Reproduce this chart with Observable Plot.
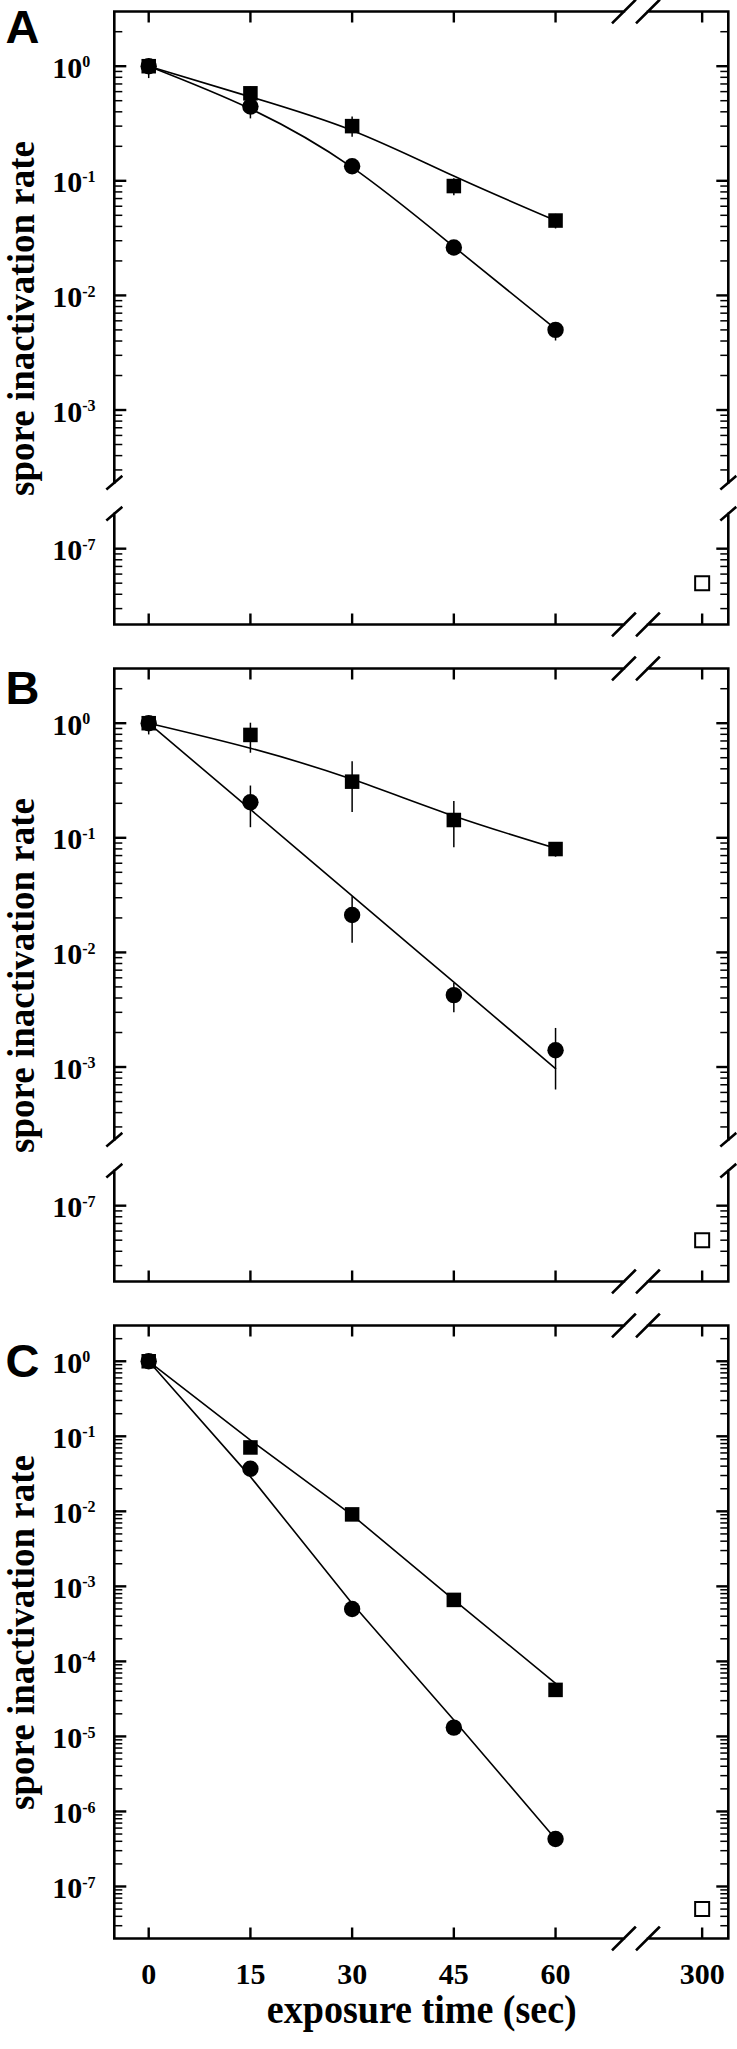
<!DOCTYPE html>
<html>
<head>
<meta charset="utf-8">
<script src="https://cdn.jsdelivr.net/npm/d3@7"></script>
<script src="https://cdn.jsdelivr.net/npm/@observablehq/plot@0.6"></script>
<style>
  html, body { margin: 0; padding: 0; background: #fff; }
  #chart { position: relative; width: 737px; height: 2049px; overflow: hidden; }
  #chart svg { position: absolute; left: 0; display: block; max-width: none; }
</style>
</head>
<body>
<div id="chart"></div>
<script>
// ---------------- data ----------------
const times = [0, 15, 30, 45, 60];
const lateTime = 300;
const xTickValues = [0, 15, 30, 45, 60, 300];

// Panel A
const aSquare      = [1, 0.58, 0.30, 0.090, 0.045];
const aSquareLow   = [0.78, 0.50, 0.24, 0.074, 0.038];
const aSquareHigh  = [1.16, 0.66, 0.36, 0.104, 0.051];
const aCircle      = [1, 0.445, 0.134, 0.0262, 0.0050];
const aCircleLow   = [0.86, 0.347, 0.122, 0.0245, 0.0040];
const aCircleHigh  = [1.10, 0.52, 0.146, 0.0280, 0.0058];
const aSquareFit   = [1, 0.54, 0.275, 0.11, 0.045];
const aCircleFit   = [1, 0.425, 0.131, 0.0266, 0.0051];
const aLate        = 5e-8;

// Panel B
const bSquare      = [1, 0.79, 0.309, 0.143, 0.0798];
const bSquareLow   = [0.79, 0.547, 0.166, 0.082, 0.0677];
const bSquareHigh  = [1.14, 1.0, 0.462, 0.207, 0.0867];
const bCircle      = [1, 0.204, 0.0212, 0.00424, 0.0014];
const bCircleLow   = [0.85, 0.1225, 0.012, 0.00297, 0.00063];
const bCircleHigh  = [1.10, 0.283, 0.0306, 0.00536, 0.00217];
const bSquareFit   = [1, 0.605, 0.324, 0.155, 0.081];
const bCircleFit   = [1, 0.177, 0.0311, 0.0055, 0.00097];
const bLate        = 5e-8;

// Panel C
const cSquare      = [1, 0.071, 0.0091, 6.6e-4, 4.17e-5];
const cCircle      = [1, 0.037, 5.0e-4, 1.31e-5, 4.3e-7];
const cSquareFit   = [1, 0.089, 0.0089, 6.6e-4, 5.1e-5];
const cCircleFit   = [1, 0.029, 5.9e-4, 1.66e-5, 4.3e-7];
const cLate        = 5e-8;

const majorTicksBroken = [1, 0.1, 0.01, 0.001, 1e-7];
const majorTicksFull   = [1, 1e-1, 1e-2, 1e-3, 1e-4, 1e-5, 1e-6, 1e-7];
const yLabel = "spore inactivation rate";
const xLabel = "exposure time (sec)";

// ---------------- layout ----------------
const W = 737, ML = 114.3, MR = 8.7, MT = 11.5, PH = 613;
const PW = W - ML - MR;
const X_DOMAIN = [-5, 85.55];
const LATE_POS = 81.62;            // where the post-break tick sits on the compressed axis
const X_BREAKS = [70.16, 73.70];   // axis-break slashes on the compressed axis
const SHIFT = 2.79;                // decades removed by the y-axis break (panels A, B)
const Y_BREAK_UP = 2.3e-4, Y_BREAK_LO = 2e-7;
const SERIF = "'Liberation Serif', 'Times New Roman', Times, serif";
const SANS = "'Liberation Sans', Arial, Helvetica, sans-serif";

const xPos = t => (t > 60 ? LATE_POS : t);
const brokenY = v => (v >= 1e-5 ? v : v * Math.pow(10, SHIFT));
const unbrokenY = d => (d >= 1.8e-4 ? d : d / Math.pow(10, SHIFT));
const identity = v => v;

function minorTicks(lo, hi) {
  const out = [];
  for (let e = -9; e <= 1; e++) for (let k = 2; k <= 9; k++) {
    const v = k * Math.pow(10, e);
    if (v >= lo && v <= hi) out.push(v);
  }
  return out;
}

function rows(vals, lo, hi) {
  return times.map((t, i) => ({t, v: vals[i], lo: lo ? lo[i] : null, hi: hi ? hi[i] : null}));
}

function frameMark(broken, yd) {
  return (index, scales, values, dims) => {
    const {x, y} = scales;
    const l = dims.marginLeft, r = dims.width - dims.marginRight;
    const t = dims.marginTop, b = dims.height - dims.marginBottom;
    const xa = x(X_BREAKS[0]), xb = x(X_BREAKS[1]);
    const p = d3.path();
    for (const yy of [t, b]) { p.moveTo(l, yy); p.lineTo(xa, yy); p.moveTo(xb, yy); p.lineTo(r, yy); }
    for (const xx of [xa, xb]) for (const yy of [t, b]) { p.moveTo(xx - 11, yy + 11); p.lineTo(xx + 11, yy - 11); }
    if (broken) {
      const ya = y(yd(Y_BREAK_UP)), yb = y(yd(Y_BREAK_LO));
      for (const xx of [l, r]) {
        p.moveTo(xx, t); p.lineTo(xx, ya); p.moveTo(xx, yb); p.lineTo(xx, b);
        p.moveTo(xx - 7, ya + 6); p.lineTo(xx + 7, ya - 6);
        p.moveTo(xx - 7, yb + 6); p.lineTo(xx + 7, yb - 6);
      }
    } else {
      for (const xx of [l, r]) { p.moveTo(xx, t); p.lineTo(xx, b); }
    }
    const g = d3.create("svg:g");
    g.append("path").attr("d", p.toString()).attr("fill", "none").attr("stroke", "black")
      .attr("stroke-width", 2.6).attr("stroke-linecap", "square");
    return g.node();
  };
}

const panels = [
  {letter: "A", top: 0, height: 657, broken: true, curve: "natural",
   sq: rows(aSquare, aSquareLow, aSquareHigh), ci: rows(aCircle, aCircleLow, aCircleHigh),
   sqFit: rows(aSquareFit), ciFit: rows(aCircleFit), late: aLate, letterTop: 9},
  {letter: "B", top: 657, height: 657, broken: true, curve: "natural",
   sq: rows(bSquare, bSquareLow, bSquareHigh), ci: rows(bCircle, bCircleLow, bCircleHigh),
   sqFit: rows(bSquareFit), ciFit: rows(bCircleFit), late: bLate, letterTop: 670},
  {letter: "C", top: 1314, height: 735, broken: false, curve: "linear",
   sq: rows(cSquare), ci: rows(cCircle),
   sqFit: rows(cSquareFit), ciFit: rows(cCircleFit), late: cLate, letterTop: 1343}
];

const chart = document.getElementById("chart");

for (const P of panels) {
  const yd = P.broken ? brokenY : identity;
  const yDomain = P.broken ? [Math.pow(10, -4.876), Math.pow(10, 0.473)] : [Math.pow(10, -7.70), Math.pow(10, 0.47)];
  const majors = (P.broken ? majorTicksBroken : majorTicksFull).map(yd);
  const minors = (P.broken ? minorTicks(2.5e-4, 2.5).concat(minorTicks(2.5e-8, 1.5e-7)) : minorTicks(2.5e-8, 2.5)).map(yd);
  const realOf = P.broken ? unbrokenY : identity;
  const yFmt = d => "10^" + Math.round(Math.log10(realOf(d)));
  const X = d => xPos(d.t), Y = d => yd(d.v);
  const MB = P.height - MT - PH;

  const marks = [
    Plot.line(P.sqFit, {x: X, y: Y, curve: P.curve, stroke: "black", strokeWidth: 1.6}),
    Plot.line(P.ciFit, {x: X, y: Y, curve: P.curve, stroke: "black", strokeWidth: 1.6}),
    Plot.ruleX(P.sq.filter(d => d.lo != null), {x: X, y1: d => yd(d.lo), y2: d => yd(d.hi), stroke: "black", strokeWidth: 1.5}),
    Plot.ruleX(P.ci.filter(d => d.lo != null), {x: X, y1: d => yd(d.lo), y2: d => yd(d.hi), stroke: "black", strokeWidth: 1.5}),
    Plot.dot(P.sq, {x: X, y: Y, symbol: "square", r: 8.2, fill: "black"}),
    Plot.dot(P.ci, {x: X, y: Y, symbol: "circle", r: 8.2, fill: "black"}),
    Plot.dot([{t: lateTime, v: P.late}], {x: X, y: Y, symbol: "square", r: 7.9, fill: "white", stroke: "black", strokeWidth: 2}),
    // inward ticks on all four sides
    Plot.tickY(majors, {y: d => d, insetRight: PW - 12, stroke: "black", strokeWidth: 2.4}),
    Plot.tickY(majors, {y: d => d, insetLeft: PW - 12, stroke: "black", strokeWidth: 2.4}),
    Plot.tickY(minors, {y: d => d, insetRight: PW - 8, stroke: "black", strokeWidth: 1.5}),
    Plot.tickY(minors, {y: d => d, insetLeft: PW - 8, stroke: "black", strokeWidth: 1.5}),
    Plot.tickX(xTickValues, {x: xPos, insetBottom: PH - 11, stroke: "black", strokeWidth: 2.4}),
    Plot.tickX(xTickValues, {x: xPos, insetTop: PH - 11, stroke: "black", strokeWidth: 2.4}),
    frameMark(P.broken, yd),
    // y tick labels (left-aligned "10" with a superscript exponent)
    Plot.text(majors, {y: d => d, text: yFmt, frameAnchor: "left", dx: 51.7 - ML, dy: 2, textAnchor: "start",
                       fontSize: 30, fontWeight: "bold", fontFamily: SERIF, fill: "black"}),
    Plot.text([yLabel], {frameAnchor: "left", dx: -93, rotate: -90, textAnchor: "middle", lineAnchor: "middle",
                         fontSize: 37, fontWeight: "bold", fontFamily: SERIF, fill: "black"}),
    Plot.text([P.letter], {frameAnchor: "top-left", dx: 5 - ML, dy: P.letterTop - P.top - MT,
                           textAnchor: "start", lineAnchor: "top", fontSize: 47, fontWeight: "bold",
                           fontFamily: SANS, fill: "black"})
  ];
  if (P.letter === "C") {
    marks.push(Plot.axisX({ticks: xTickValues.map(xPos), tickFormat: d => (d > 60 ? String(lateTime) : String(d)),
                           tickSize: 0, tickPadding: 23.5, fontSize: 30, fontWeight: "bold", fontFamily: SERIF, label: null}));
    marks.push(Plot.text([xLabel], {frameAnchor: "bottom", dy: 84, textAnchor: "middle", fontSize: 41, fontWeight: "bold",
                                    fontFamily: SERIF, fill: "black"}));
  }

  const svg = Plot.plot({
    width: W, height: P.height,
    marginLeft: ML, marginRight: MR, marginTop: MT, marginBottom: MB,
    x: {domain: X_DOMAIN, axis: null},
    y: {type: "log", domain: yDomain, axis: null},
    style: {fontFamily: SERIF, fontSize: "30px", fontWeight: "bold", background: "transparent", overflow: "visible", color: "black"},
    marks
  });
  svg.style.top = P.top + "px";
  for (const t of svg.querySelectorAll("text")) {
    // render "10^n" tick labels with a real superscript
    const m = /^10\^(-?\d+)$/.exec(t.textContent);
    if (m) {
      t.textContent = "10";
      const s = document.createElementNS("http://www.w3.org/2000/svg", "tspan");
      s.setAttribute("font-size", "16");
      s.setAttribute("dy", "-10.5");
      s.textContent = m[1];
      t.appendChild(s);
    }
    // the axis title is set slightly condensed, as in the figure
    if (t.textContent === xLabel) {
      t.setAttribute("textLength", "310");
      t.setAttribute("lengthAdjust", "spacingAndGlyphs");
    }
  }
  chart.appendChild(svg);
}
</script>
</body>
</html>
